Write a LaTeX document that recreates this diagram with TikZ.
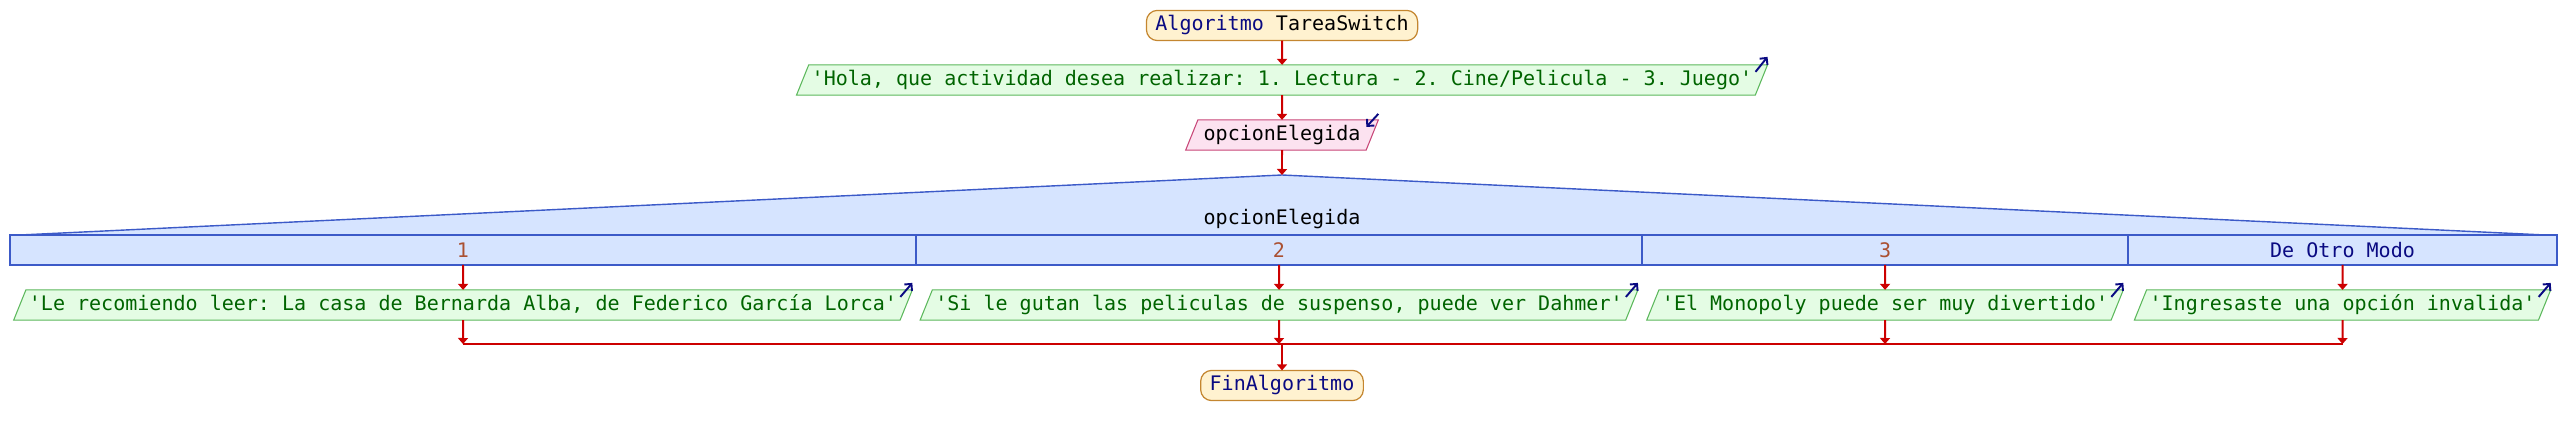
\documentclass[tikz,border=0pt]{standalone}
\usepackage{fontspec}
\setmonofont{DejaVu Sans Mono}
\usepackage{tikz}
\usetikzlibrary{arrows.meta,shapes.geometric}

\definecolor{flowred}{RGB}{204,0,0}
\definecolor{kwblue}{RGB}{10,10,130}
\definecolor{startfill}{RGB}{255,242,208}
\definecolor{startdraw}{RGB}{196,134,48}
\definecolor{outfill}{RGB}{228,252,228}
\definecolor{outdraw}{RGB}{92,184,92}
\definecolor{outtext}{RGB}{0,100,0}
\definecolor{infill}{RGB}{252,226,240}
\definecolor{indraw}{RGB}{200,70,120}
\definecolor{swfill}{RGB}{214,228,255}
\definecolor{swdraw}{RGB}{60,90,200}
\definecolor{casetext}{RGB}{170,80,50}

\begin{document}
\begin{tikzpicture}[x=0.02cm, y=-0.02cm, >={Triangle[width=0.2cm,length=0.12cm]},
	font=\fontsize{11.4}{13}\selectfont\ttfamily,
	every node/.style={outer sep=0pt},
	flow/.style={->, draw=flowred, line width=1.1pt},
	startbox/.style={rectangle, draw=startdraw, fill=startfill, rounded corners=0.22cm, text height=9pt, text depth=3pt, inner xsep=0.18cm, inner ysep=2.6pt, line width=0.7pt},
	outbox/.style={trapezium, trapezium left angle=68, trapezium right angle=112, trapezium stretches=true, draw=outdraw, fill=outfill, text=outtext, text height=9pt, text depth=3pt, inner xsep=0.06cm, inner ysep=2.6pt, line width=0.6pt},
	inbox/.style={outbox, draw=indraw, fill=infill, text=black, inner xsep=0.115cm},
	casebox/.style={rectangle, draw=swdraw, fill=swfill, minimum height=0.6cm, line width=0.8pt},
	icon/.style={-{Straight Barb[length=0.1cm,width=0.2cm]}, draw=kwblue, line width=1.1pt}]
	%\draw [help lines] (0,0) grid (2564,435);
	\useasboundingbox (0,0) rectangle (2564,435);
	\node [startbox] (start) at (1282,25.5) {{\color{kwblue}Algoritmo} TareaSwitch};
	\node [outbox] (hola) at (1282,80) {'Hola, que actividad desea realizar: 1. Lectura - 2. Cine/Pelicula - 3. Juego'};
	\node [inbox] (leer) at (1282,135) {opcionElegida};
	\coordinate (sw) at (1282,175);
	\fill [swfill] (20,235) -- (sw) -- (2545,235) -- cycle;
	\draw [swdraw, line width=0.8pt] (20,235) -- (sw) -- (2545,235);
	\node (swvar) at (1282,219) {opcionElegida};
	\node [casebox, minimum width=18.12cm, text=casetext] (c1) at (463,250) {1};
	\node [casebox, minimum width=14.52cm, text=casetext] (c2) at (1279,250) {2};
	\node [casebox, minimum width=9.72cm, text=casetext] (c3) at (1885,250) {3};
	\node [casebox, minimum width=8.58cm, text=kwblue] (c4) at (2342.5,250) {De Otro Modo};
	\node [outbox] (o1) at (463,305) {'Le recomiendo leer: La casa de Bernarda Alba, de Federico García Lorca'};
	\node [outbox] (o2) at (1279,305) {'Si le gutan las peliculas de suspenso, puede ver Dahmer'};
	\node [outbox] (o3) at (1885,305) {'El Monopoly puede ser muy divertido'};
	\node [outbox] (o4) at (2342.5,305) {'Ingresaste una opción invalida'};
	\coordinate (merge) at (1282,344);
	\node [startbox, text=kwblue] (fin) at (1282,385.5) {FinAlgoritmo};
	\draw [flow] (start) -- (hola);
	\draw [flow] (hola) -- (leer);
	\draw [flow] (leer) -- (sw);
	\foreach \i in {1,2,3,4} {
		\draw [flow] (c\i) -- (o\i);
		\draw [flow] (o\i) -- (o\i |- merge);
		\draw [icon] ([shift={(-12,7)}]o\i.top right corner) -- ([shift={(0,-7)}]o\i.top right corner);
	}
	\draw [flowred, line width=1.1pt] (o1 |- merge) -- (o4 |- merge);
	\draw [flow] (merge) -- (fin);
	\draw [icon] ([shift={(-12,7)}]hola.top right corner) -- ([shift={(0,-8)}]hola.top right corner);
	\draw [icon] ([shift={(0,-6)}]leer.top right corner) -- ([shift={(-12,7)}]leer.top right corner);
\end{tikzpicture}
\end{document}
